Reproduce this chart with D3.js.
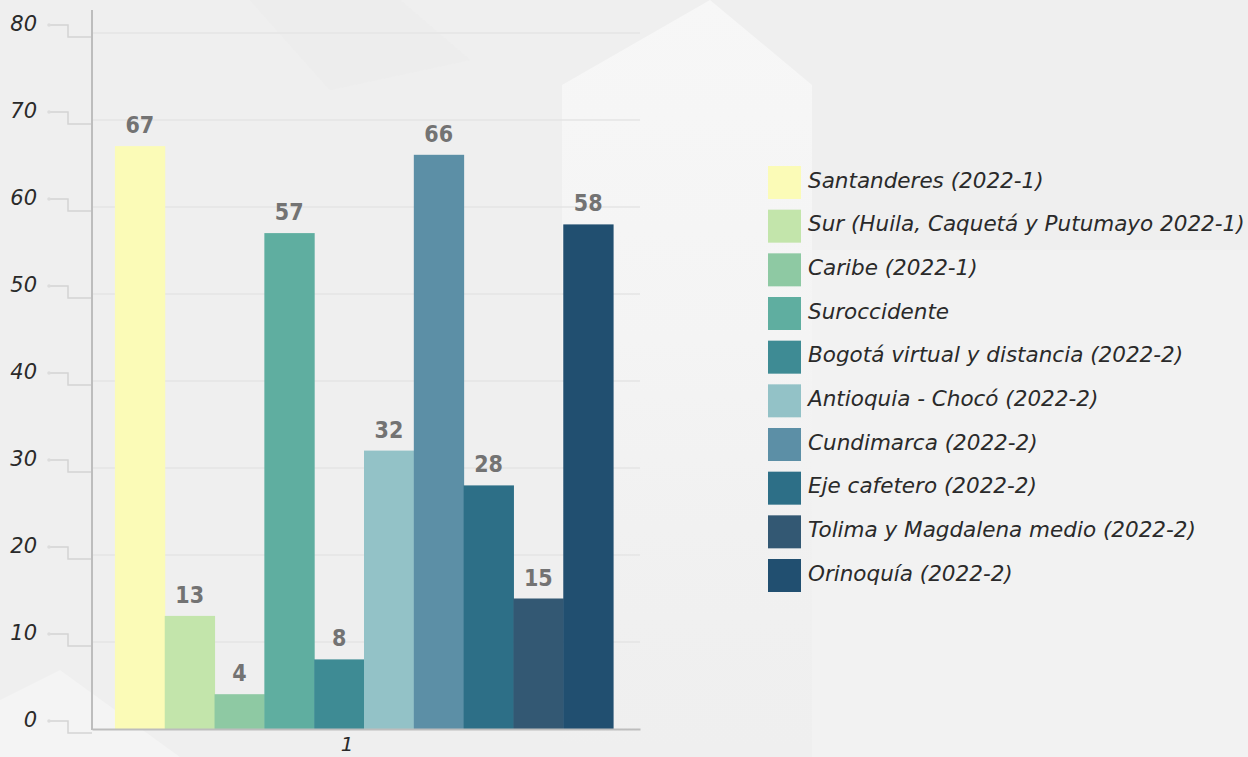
<!DOCTYPE html>
<html>
<head>
<meta charset="utf-8">
<script src="https://cdn.jsdelivr.net/npm/d3@7"></script>
<style>
  body { margin: 0; background: #f1f1f1; }
  svg { display: block; }
</style>
</head>
<body>
<div id="chart"></div>
<script>
const categories = ['1']

const regions = [
  'Santanderes (2022-1)',
  'Sur (Huila, Caquetá y Putumayo 2022-1)',
  'Caribe (2022-1)',
  'Suroccidente',
  'Bogotá virtual y distancia (2022-2)',
  'Antioquia - Chocó (2022-2)',
  'Cundimarca (2022-2)',
  'Eje cafetero (2022-2)',
  'Tolima y Magdalena medio (2022-2)',
  'Orinoquía (2022-2)'
]

const values = [67, 13, 4, 57, 8, 32, 66, 28, 15, 58]

const colors = [
  '#fbfbb7',
  '#c3e5ab',
  '#8ec9a3',
  '#5faea0',
  '#3e8b94',
  '#93c2c7',
  '#5c8fa6',
  '#2d6f87',
  '#335873',
  '#214f70'
]

const yTicks = [0, 10, 20, 30, 40, 50, 60, 70, 80]

const width = 1248
const height = 757

const svg = d3
  .select('#chart')
  .append('svg')
  .attr('width', width)
  .attr('height', height)

// soft background shapes
const defs = svg.append('defs')
const grad = defs
  .append('linearGradient')
  .attr('id', 'fade')
  .attr('x1', 0).attr('y1', 0).attr('x2', 0).attr('y2', 1)
grad.append('stop').attr('offset', '0%').attr('stop-color', '#f7f7f7')
grad.append('stop').attr('offset', '45%').attr('stop-color', '#f4f4f4')
grad.append('stop').attr('offset', '100%').attr('stop-color', '#f1f1f1').attr('stop-opacity', 0)

const bg = svg.append('g')
bg.append('rect').attr('width', width).attr('height', height).attr('fill', '#efefef')
bg.append('polygon')
  .attr('points', '562,85 710,0 812,85 812,757 562,757')
  .attr('fill', 'url(#fade)')
bg.append('polygon')
  .attr('points', '0,700 60,670 180,757 0,757')
  .attr('fill', '#f4f4f4')
bg.append('polygon')
  .attr('points', '250,0 400,0 470,60 330,90')
  .attr('fill', '#ebebeb')
  .attr('opacity', 0.5)
bg.append('rect')
  .attr('x', 812).attr('y', 250).attr('width', 436).attr('height', 507)
  .attr('fill', '#f3f3f3')
  .attr('opacity', 0.7)

const yPositionScale = d3.scaleLinear().domain([0, 80]).range([729, 33])

const x0 = d3
  .scaleBand()
  .domain(categories)
  .range([92, 640])
  .paddingOuter(0.05)

const x1 = d3
  .scaleBand()
  .domain(regions)
  .range([-2, x0.bandwidth() - 2])

const colorScale = d3.scaleOrdinal().domain(regions).range(colors)

// grid lines
svg
  .append('g')
  .selectAll('line')
  .data(yTicks.filter(d => d > 0))
  .enter()
  .append('line')
  .attr('x1', 92)
  .attr('x2', 640)
  .attr('y1', d => yPositionScale(d))
  .attr('y2', d => yPositionScale(d))
  .attr('stroke', '#e4e4e4')
  .attr('stroke-width', 1.5)

// y tick connectors + labels
const ticks = svg
  .append('g')
  .selectAll('g')
  .data(yTicks)
  .enter()
  .append('g')

ticks
  .append('path')
  .attr('d', d => {
    const y = yPositionScale(d)
    return 'M49,' + (y - 8) + 'H68V' + (y + 4) + 'H92'
  })
  .attr('fill', 'none')
  .attr('stroke', '#d4d4d4')
  .attr('stroke-width', 1.5)

ticks
  .append('circle')
  .attr('cx', 49)
  .attr('cy', d => yPositionScale(d) - 8)
  .attr('r', 1.8)
  .attr('fill', '#dcdcdc')

ticks
  .append('text')
  .attr('x', 37)
  .attr('y', d => yPositionScale(d) - 9)
  .attr('dy', '0.35em')
  .attr('text-anchor', 'end')
  .attr('font-family', 'DejaVu Sans, sans-serif')
  .attr('font-style', 'italic')
  .attr('font-size', 21)
  .attr('fill', '#2a2a2a')
  .text(d => d)

// bars
const group = svg
  .append('g')
  .selectAll('g')
  .data(categories)
  .enter()
  .append('g')
  .attr('transform', d => 'translate(' + x0(d) + ',0)')

const rows = regions.map((r, i) => ({ region: r, value: values[i] }))

group
  .selectAll('rect')
  .data(rows)
  .enter()
  .append('rect')
  .attr('x', d => x1(d.region))
  .attr('width', x1.bandwidth() + 0.5)
  .attr('y', d => yPositionScale(d.value))
  .attr('height', d => yPositionScale(0) - yPositionScale(d.value))
  .attr('fill', d => colorScale(d.region))

group
  .selectAll('text')
  .data(rows)
  .enter()
  .append('text')
  .attr('x', d => x1(d.region) + x1.bandwidth() / 2)
  .attr('y', d => yPositionScale(d.value) - 13)
  .attr('text-anchor', 'middle')
  .attr('font-family', 'DejaVu Sans Condensed, DejaVu Sans, sans-serif')
  .attr('font-stretch', 'condensed')
  .attr('font-weight', 'bold')
  .attr('font-size', 23)
  .attr('fill', '#737373')
  .text(d => d.value)

// axis lines
svg
  .append('line')
  .attr('x1', 92)
  .attr('x2', 92)
  .attr('y1', 10)
  .attr('y2', 730)
  .attr('stroke', '#bdbdbd')
  .attr('stroke-width', 2)

const xAxis = d3.axisBottom(x0).tickSize(0).tickPadding(8)
const xAxisG = svg
  .append('g')
  .attr('transform', 'translate(0,729)')
  .call(xAxis)
xAxisG.select('.domain').attr('stroke', '#bdbdbd').attr('stroke-width', 2)
xAxisG
  .selectAll('text')
  .attr('dx', -19)
  .attr('font-family', 'DejaVu Sans, sans-serif')
  .attr('font-style', 'italic')
  .attr('font-size', 20)
  .attr('fill', '#2a2a2a')

// legend
const legendY = d3.scalePoint().domain(regions).range([166, 559])

const legend = svg
  .append('g')
  .selectAll('g')
  .data(regions)
  .enter()
  .append('g')
  .attr('transform', d => 'translate(768,' + legendY(d) + ')')

legend
  .append('rect')
  .attr('width', 33)
  .attr('height', 33)
  .attr('fill', d => colorScale(d))

legend
  .append('text')
  .attr('x', 40)
  .attr('y', 14)
  .attr('dy', '0.35em')
  .attr('font-family', 'DejaVu Sans, sans-serif')
  .attr('font-style', 'italic')
  .attr('font-size', 21.5)
  .attr('fill', '#2a2a2a')
  .text(d => d)
</script>
</body>
</html>
